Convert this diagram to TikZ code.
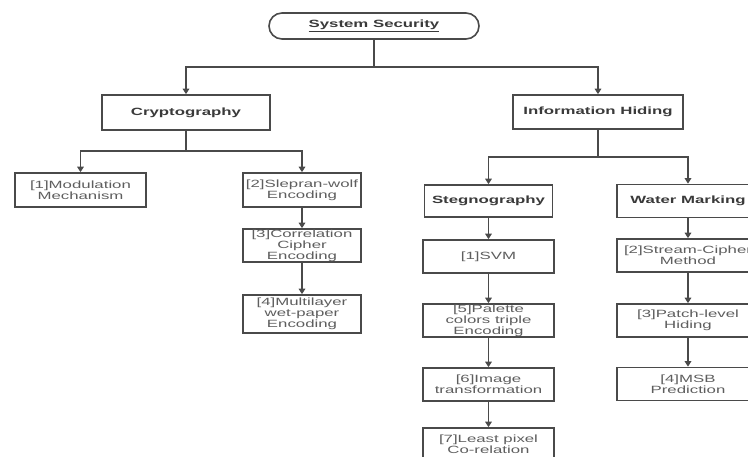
\documentclass[tikz,border=0pt]{standalone}
\usepackage{fontspec}
\usepackage{tikz}
\usetikzlibrary{arrows.meta}
\newfontfamily\diagfont[FakeStretch=1.6]{Liberation Sans}
\definecolor{linegray}{HTML}{4A4A4A}
\definecolor{textgray}{HTML}{5E5E5E}
\definecolor{headgray}{HTML}{3A3A3A}

\begin{document}
\begin{tikzpicture}[x=1pt, y=-1pt,
			itembox/.style={rectangle, draw=linegray, fill=white, line width=1.6pt, text=textgray, align=center, inner sep=0pt, font=\diagfont\fontsize{10.5}{11.2}\selectfont},
			headbox/.style={itembox, text=headgray, font=\diagfont\bfseries\fontsize{10.5}{11.2}\selectfont},
			rootbox/.style={headbox, rounded corners=13pt, minimum width=210pt, minimum height=26pt},
			link/.style={draw=linegray, line width=1.6pt},
			arrow/.style={link, -{Triangle[length=5.5pt, width=6.5pt]}},
			]
			\useasboundingbox (0,0) rectangle (748,457);
			\clip (0,0) rectangle (748,457);
			\fill[white] (0,0) rectangle (748,457);
			%Nodes
				\node[rootbox]		(security)		at (374,26)		{\underline{System Security}};
				\node[headbox, minimum width=168pt, minimum height=35pt]	(crypto)	at (186,112.5)	{Cryptography};
				\node[headbox, minimum width=170pt, minimum height=34pt]	(hiding)	at (598,112)	{Information Hiding};
				\node[itembox, minimum width=131pt, minimum height=34pt]	(modulation)	at (80.5,190)	{[1]Modulation\\Mechanism};
				\node[itembox, minimum width=118pt, minimum height=34pt]	(slepian)	at (302,190)	{[2]Slepran-wolf\\Encoding};
				\node[itembox, minimum width=118pt, minimum height=33pt]	(correlation)	at (302,245.5)	{[3]Correlation\\Cipher\\Encoding};
				\node[itembox, minimum width=118pt, minimum height=38pt]	(wetpaper)	at (302,314)	{[4]Multilayer\\wet-paper\\Encoding};
				\node[headbox, minimum width=128pt, minimum height=32pt]	(stego)		at (488.5,201)	{Stegnography};
				\node[headbox, minimum width=142pt, minimum height=33pt]	(watermark)	at (688,201)	{Water Marking};
				\node[itembox, minimum width=131pt, minimum height=33pt]	(svm)		at (488.5,256.5)	{[1]SVM};
				\node[itembox, minimum width=131pt, minimum height=33pt]	(palette)	at (488.5,320.5)	{[5]Palette\\colors triple\\Encoding};
				\node[itembox, minimum width=131pt, minimum height=33pt]	(transform)	at (488.5,384.5)	{[6]Image\\transformation};
				\node[itembox, minimum width=131pt, minimum height=33pt]	(leastpixel)	at (488.5,444.5)	{[7]Least pixel\\Co-relation};
				\node[itembox, minimum width=142pt, minimum height=33pt]	(stream)	at (688,255.5)	{[2]Stream-Cipher\\Method};
				\node[itembox, minimum width=142pt, minimum height=33pt]	(patch)		at (688,320.5)	{[3]Patch-level\\Hiding};
				\node[itembox, minimum width=142pt, minimum height=33pt]	(msb)		at (688,384)	{[4]MSB\\Prediction};
				\coordinate	(rootsplit)		at (374,67);
				\coordinate	(cryptosplit)	at (186,151);
				\coordinate	(hidingsplit)	at (598,157);

			%Lines
				\draw[link] (security.south) -- (rootsplit);
				\draw[arrow] (rootsplit) -| (crypto.north);
				\draw[arrow] (rootsplit) -| (hiding.north);
				\draw[link] (crypto.south) -- (cryptosplit);
				\draw[arrow] (cryptosplit) -| (modulation.north);
				\draw[arrow] (cryptosplit) -| (slepian.north);
				\draw[arrow] (slepian) -- (correlation);
				\draw[arrow] (correlation) -- (wetpaper);
				\draw[link] (hiding.south) -- (hidingsplit);
				\draw[arrow] (hidingsplit) -| (stego.north);
				\draw[arrow] (hidingsplit) -| (watermark.north);
				\draw[arrow] (stego) -- (svm);
				\draw[arrow] (svm) -- (palette);
				\draw[arrow] (palette) -- (transform);
				\draw[arrow] (transform) -- (leastpixel);
				\draw[arrow] (watermark) -- (stream);
				\draw[arrow] (stream) -- (patch);
				\draw[arrow] (patch) -- (msb);
		\end{tikzpicture}
\end{document}
